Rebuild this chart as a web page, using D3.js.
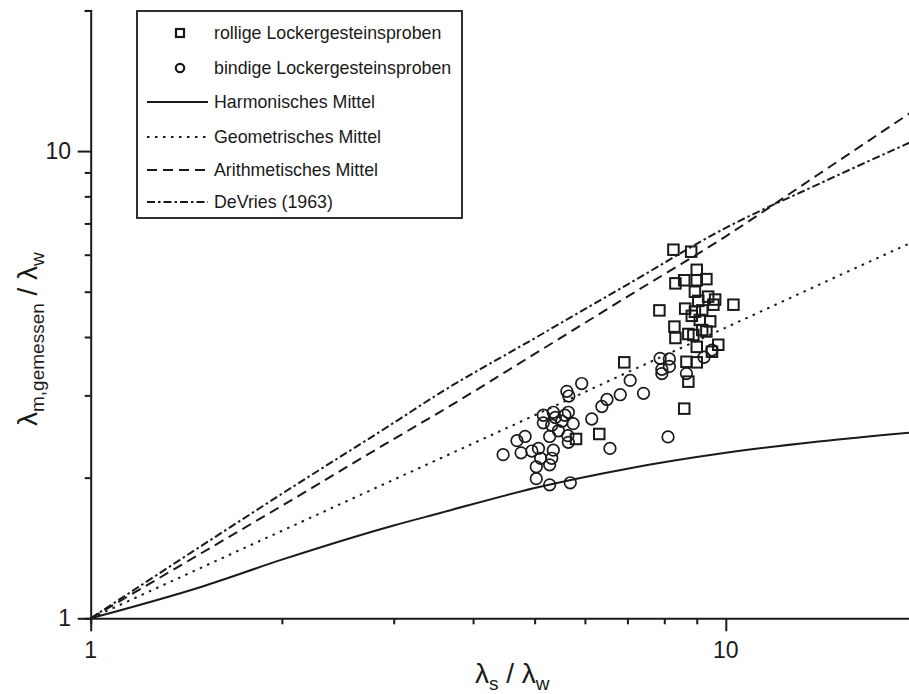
<!DOCTYPE html>
<html>
<head>
<meta charset="utf-8">
<script src="https://cdn.jsdelivr.net/npm/d3@7"></script>
<style>
  html, body { margin: 0; padding: 0; background: #fff; }
  svg { display: block; font-family: "Liberation Sans", Arial, sans-serif; }
</style>
</head>
<body>
<svg id="chart" width="909" height="694"></svg>
<script>
// ---------- data ----------
const squaresX = [8.27, 8.82, 9.00, 8.33, 8.60, 9.00, 9.32, 8.94, 9.38, 9.62, 9.05, 9.56, 10.28, 7.86, 8.63, 8.94, 9.18, 8.84, 9.10, 9.45, 8.30, 8.33, 8.73, 8.89, 9.18, 9.32, 9.00, 9.73, 9.51, 6.92, 8.67, 9.00, 8.73, 8.60, 5.81, 6.32];
const squaresY = [6.15, 6.09, 5.57, 5.21, 5.29, 5.29, 5.32, 5.00, 4.88, 4.81, 4.78, 4.69, 4.69, 4.56, 4.60, 4.53, 4.56, 4.44, 4.35, 4.32, 4.21, 3.98, 4.06, 4.04, 4.14, 4.11, 3.81, 3.85, 3.72, 3.53, 3.54, 3.53, 3.21, 2.81, 2.42, 2.48];

const circlesX = [7.88, 8.15, 7.93, 8.15, 7.93, 8.67, 9.24, 9.51, 7.07, 7.42, 6.82, 6.50, 6.38, 6.15, 5.93, 5.62, 6.57, 5.16, 5.35, 5.39, 5.58, 5.65, 5.16, 5.32, 5.52, 5.75, 4.83, 4.69, 5.28, 5.45, 5.65, 4.46, 4.76, 4.95, 5.07, 5.11, 5.35, 5.32, 5.28, 5.03, 5.03, 5.28, 5.69, 5.66, 5.64, 8.11];
const circlesY = [3.60, 3.59, 3.41, 3.46, 3.34, 3.34, 3.62, 3.75, 3.23, 3.03, 3.01, 2.94, 2.84, 2.67, 3.18, 3.06, 2.31, 2.72, 2.76, 2.69, 2.72, 2.76, 2.62, 2.59, 2.64, 2.61, 2.45, 2.40, 2.45, 2.52, 2.38, 2.24, 2.26, 2.28, 2.31, 2.20, 2.29, 2.20, 2.13, 2.11, 1.99, 1.93, 1.95, 2.99, 2.46, 2.445];

const curveX      = [1, 1.5, 2, 3, 3.55, 5, 7, 10, 14, 20];
const harmonicY   = [1, 1.17, 1.335, 1.58, 1.68, 1.90, 2.09, 2.26, 2.39, 2.505];
const geometricY  = [1, 1.287, 1.539, 1.98, 2.198, 2.72, 3.36, 4.19, 5.17, 6.45];
const arithmeticY = [1, 1.383, 1.741, 2.419, 2.766, 3.68, 4.88, 6.57, 8.92, 12.34];
const devriesY    = [1, 1.434, 1.847, 2.62, 3.037, 3.975, 5.18, 6.85, 8.50, 10.6];

const xTickLabels = ["1", "10"];
const yTickLabels = ["1", "10"];
const legendLabels = ["rollige Lockergesteinsproben", "bindige Lockergesteinsproben",
  "Harmonisches Mittel", "Geometrisches Mittel", "Arithmetisches Mittel", "DeVries (1963)"];

// ---------- layout ----------
const svg = d3.select("#chart");
const x = d3.scaleLog().domain([1, 20]).range([90.7, 917]);
const y = d3.scaleLog().domain([1, 20]).range([618.3, 10.4]);
const ink = "#1a1a1a";

const lineStyles = {
  solid:   null,
  dotted:  "2.5,5.5",
  dashed:  "10,6",
  dashdot: "8,3,2.5,3"
};

const line = d3.line().x(d => x(d[0])).y(d => y(d[1])).curve(d3.curveMonotoneX);

const plot = svg.append("g");
const series = [
  { ys: harmonicY,   dash: lineStyles.solid },
  { ys: geometricY,  dash: lineStyles.dotted },
  { ys: arithmeticY, dash: lineStyles.dashed },
  { ys: devriesY,    dash: lineStyles.dashdot }
];
series.forEach(s => {
  plot.append("path")
    .datum(curveX.map((v, i) => [v, s.ys[i]]))
    .attr("d", line)
    .attr("fill", "none")
    .attr("stroke", ink)
    .attr("stroke-width", 2)
    .attr("stroke-dasharray", s.dash);
});

// scatter: squares
const sq = 10.5;
plot.selectAll("rect.sq").data(squaresX.map((v, i) => [v, squaresY[i]])).enter()
  .append("rect").attr("class", "sq")
  .attr("x", d => x(d[0]) - sq / 2).attr("y", d => y(d[1]) - sq / 2)
  .attr("width", sq).attr("height", sq)
  .attr("fill", "none").attr("stroke", ink).attr("stroke-width", 2);

plot.selectAll("circle.ci").data(circlesX.map((v, i) => [v, circlesY[i]])).enter()
  .append("circle").attr("class", "ci")
  .attr("cx", d => x(d[0])).attr("cy", d => y(d[1])).attr("r", 5.8)
  .attr("fill", "none").attr("stroke", ink).attr("stroke-width", 1.7);

// ---------- axes ----------
const ticksAll = [1, 2, 3, 4, 5, 6, 7, 8, 9, 10, 20];
const xAxis = d3.axisBottom(x).tickValues(ticksAll)
  .tickSize(6).tickFormat(() => "");
const yAxis = d3.axisLeft(y).tickValues(ticksAll)
  .tickSize(6).tickFormat(() => "");

const gx = svg.append("g").attr("transform", `translate(0,${y(1)})`).call(xAxis);
const gy = svg.append("g").attr("transform", `translate(${x(1)},0)`).call(yAxis);
[gx, gy].forEach(g => {
  g.select(".domain").attr("stroke", ink).attr("stroke-width", 2);
  g.selectAll(".tick line").attr("stroke", ink).attr("stroke-width", 2);
});
gx.selectAll(".tick line").attr("y2", d => (d === 1 || d === 10) ? 13 : 6);
gy.selectAll(".tick line").attr("x2", d => (d === 1 || d === 10) ? -13 : -6);

// tick labels
[1, 10].forEach((v, i) => {
  svg.append("text").attr("x", x(v)).attr("y", 658).attr("text-anchor", "middle")
    .attr("font-size", 23).attr("fill", ink).text(xTickLabels[i]);
  svg.append("text").attr("x", 71).attr("y", y(v) + 8).attr("text-anchor", "end")
    .attr("font-size", 23).attr("fill", ink).text(yTickLabels[i]);
});

// axis titles
const xt = svg.append("text").attr("x", 475).attr("y", 683)
  .attr("font-size", 28).attr("fill", ink);
xt.append("tspan").text("λ");
xt.append("tspan").attr("font-size", 19).attr("dy", 7).text("s");
xt.append("tspan").attr("dy", -7).text(" / λ");
xt.append("tspan").attr("font-size", 19).attr("dy", 7).text("w");

const yt = svg.append("text").attr("transform", "translate(37,426) rotate(-90)")
  .attr("font-size", 28).attr("fill", ink);
yt.append("tspan").text("λ");
yt.append("tspan").attr("font-size", 19).attr("dy", 7).text("m,gemessen");
yt.append("tspan").attr("dy", -7).text(" / λ");
yt.append("tspan").attr("font-size", 19).attr("dy", 7).text("w");

// ---------- legend ----------
const lg = svg.append("g");
lg.append("rect").attr("x", 137).attr("y", 11).attr("width", 325).attr("height", 207)
  .attr("fill", "#fff").attr("stroke", ink).attr("stroke-width", 1.8);
const rowY = [33, 68, 102, 137, 170, 202];
legendLabels.forEach((t, i) => {
  lg.append("text").attr("x", 214).attr("y", rowY[i] + 6).attr("font-size", 17.8)
    .attr("fill", ink).text(t);
});
lg.append("rect").attr("x", 176).attr("y", rowY[0] - 4).attr("width", 8).attr("height", 8)
  .attr("fill", "none").attr("stroke", ink).attr("stroke-width", 2.2);
lg.append("circle").attr("cx", 180).attr("cy", rowY[1]).attr("r", 4.2)
  .attr("fill", "none").attr("stroke", ink).attr("stroke-width", 2.2);
[lineStyles.solid, lineStyles.dotted, lineStyles.dashed, lineStyles.dashdot].forEach((d, k) => {
  lg.append("line").attr("x1", 147).attr("x2", 208)
    .attr("y1", rowY[k + 2]).attr("y2", rowY[k + 2])
    .attr("stroke", ink).attr("stroke-width", 2).attr("stroke-dasharray", d);
});
</script>
</body>
</html>
